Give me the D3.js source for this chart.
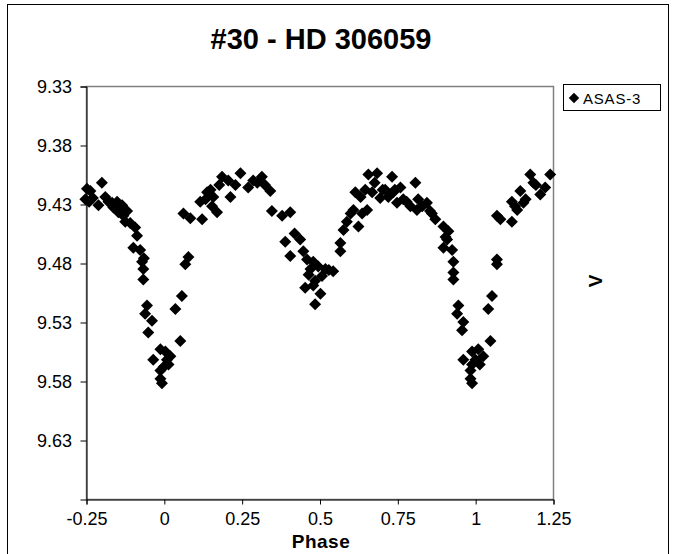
<!DOCTYPE html>
<html>
<head>
<meta charset="utf-8">
<script src="https://cdn.jsdelivr.net/npm/d3@7/dist/d3.min.js"></script>
<style>
  html, body { margin: 0; padding: 0; background: #fff; }
  svg { display: block; font-family: "Liberation Sans", Arial, sans-serif; }
</style>
</head>
<body>
<svg id="chart" width="675" height="554"></svg>
<script>
// ASAS-3 V-band light curve of HD 306059, folded on orbital phase
const phase = [
  -0.247, -0.236, -0.252, -0.199, -0.210, -0.188, -0.166, -0.162, -0.150, -0.134,
  -0.146, -0.130, -0.124, -0.108, -0.092, -0.086, -0.098, -0.076, -0.070, -0.066,
  -0.066, -0.054, -0.060, -0.038, -0.050, -0.034, -0.011, 0.005, 0.021, 0.010,
  -0.011, -0.011, -0.006, 0.053, 0.037, 0.058, 0.069, 0.079, 0.063, 0.085,
  0.117, 0.123, 0.139, 0.155, 0.159, 0.171, 0.187, 0.207, 0.214, 0.246,
  0.271, 0.287, 0.315, 0.342, 0.347, 0.380, 0.406, 0.390, 0.406, 0.486,
  0.438, 0.448, 0.460, 0.480, 0.471, 0.496, 0.519, 0.544, 0.454, 0.480,
  0.503, 0.486, 0.567, 0.567, 0.577, 0.588, 0.609, 0.625, 0.615, 0.637,
  0.653, 0.647, 0.657, 0.685, 0.669, 0.695, 0.711, 0.721, 0.733, 0.737,
  0.749, 0.760, 0.769, 0.792, 0.808, 0.817, 0.813, 0.845, 0.861, 0.872,
  0.898, 0.914, 0.910, 0.898, 0.926, 0.930, 0.930, 0.930, 0.946, 0.942,
  0.962, 0.958, 0.962, 0.990, 1.010, 1.026, 1.001, 0.985, 0.985, 0.990,
  1.049, 1.042, 1.054, 1.070, 1.070, 1.070, 1.081, 1.118, 1.118, 1.135,
  1.145, 1.155, 1.177, 1.187, 1.209, 1.241,
  -0.240, -0.228, -0.178, -0.140, -0.118, -0.064, 0.015, 0.000, 0.134, 0.150,
  0.178, 0.230, 0.300, 0.325, 0.420, 0.465, 0.508, 0.530, 0.600, 0.632,
  0.677, 0.703, 0.742, 0.780, 0.830, 0.855, 0.905, 0.990, 1.015, 1.128,
  1.162, 1.195, 1.225
];
const vmag = [
  9.417, 9.419, 9.426, 9.412, 9.431, 9.424, 9.429, 9.433, 9.428, 9.431,
  9.437, 9.440, 9.445, 9.446, 9.450, 9.457, 9.467, 9.469, 9.479, 9.485,
  9.494, 9.516, 9.523, 9.529, 9.539, 9.562, 9.553, 9.555, 9.559, 9.562,
  9.571, 9.578, 9.582, 9.546, 9.519, 9.508, 9.481, 9.475, 9.438, 9.442,
  9.428, 9.443, 9.420, 9.432, 9.424, 9.437, 9.407, 9.410, 9.424, 9.404,
  9.416, 9.410, 9.407, 9.419, 9.436, 9.440, 9.437, 9.462, 9.474, 9.495,
  9.460, 9.470, 9.477, 9.479, 9.485, 9.483, 9.485, 9.487, 9.501, 9.499,
  9.506, 9.515, 9.463, 9.470, 9.452, 9.445, 9.435, 9.449, 9.420, 9.438,
  9.435, 9.418, 9.405, 9.404, 9.420, 9.425, 9.418, 9.424, 9.407, 9.420,
  9.429, 9.416, 9.426, 9.432, 9.412, 9.426, 9.435, 9.429, 9.438, 9.443,
  9.449, 9.453, 9.460, 9.467, 9.469, 9.479, 9.488, 9.494, 9.516, 9.523,
  9.530, 9.537, 9.562, 9.555, 9.553, 9.559, 9.562, 9.571, 9.578, 9.582,
  9.546, 9.519, 9.508, 9.477, 9.481, 9.440, 9.443, 9.445, 9.428, 9.435,
  9.419, 9.429, 9.405, 9.412, 9.422, 9.405,
  9.428, 9.425, 9.428, 9.434, 9.436, 9.476, 9.566, 9.568, 9.426, 9.418,
  9.414, 9.414, 9.412, 9.414, 9.455, 9.490, 9.491, 9.486, 9.438, 9.424,
  9.412, 9.418, 9.418, 9.428, 9.432, 9.436, 9.458, 9.566, 9.566, 9.432,
  9.426, 9.414, 9.416
];
const xTicks = [-0.25, 0, 0.25, 0.5, 0.75, 1, 1.25];
const yTicks = [9.33, 9.38, 9.43, 9.48, 9.53, 9.58, 9.63];
const titleText = "#30 - HD 306059";
const xLabel = "Phase";
const yLabel = "V";
const seriesName = "ASAS-3";

const svg = d3.select("#chart");
const plot = { left: 86, top: 86, right: 553, bottom: 499 };

// outer chart frame
svg.append("rect")
  .attr("x", 7.5).attr("y", 4.5).attr("width", 661).attr("height", 560)
  .attr("fill", "none").attr("stroke", "#000").attr("stroke-width", 1);

const x = d3.scaleLinear().domain([-0.25, 1.25]).range([plot.left, plot.right]);
// magnitudes: brighter at the top
const y = d3.scaleLinear().domain([9.33, 9.68]).range([plot.top, plot.bottom]);

// plot area border (grey)
svg.append("rect")
  .attr("x", plot.left + 0.5).attr("y", plot.top + 0.5)
  .attr("width", plot.right - plot.left).attr("height", plot.bottom - plot.top)
  .attr("fill", "none").attr("stroke", "#808080").attr("stroke-width", 1.5);

// axes
const xAxis = d3.axisBottom(x).tickValues(xTicks).tickSize(5).tickFormat(d => String(d));
const gx = svg.append("g").attr("transform", `translate(0.5,${plot.bottom + 0.5})`).call(xAxis);
const yAxis = d3.axisLeft(y).tickValues(yTicks).tickSize(6).tickFormat(d3.format(".2f"));
const gy = svg.append("g").attr("transform", `translate(${plot.left + 0.5},0.5)`).call(yAxis);

[gx, gy].forEach(g => {
  g.select(".domain").attr("stroke", "#000").attr("stroke-width", 1);
  g.selectAll(".tick line").attr("stroke", "#000");
  g.selectAll(".tick text").attr("fill", "#000")
    .style("font-family", "'Liberation Sans', Arial, sans-serif").style("font-size", "18px");
});
gx.selectAll(".tick text").attr("dy", "0.95em");
gy.selectAll(".tick text").attr("dx", "-0.3em");

// data points: filled diamonds
const pts = phase.map((p, i) => ({ p, m: vmag[i] }));
svg.append("g").selectAll("path").data(pts).join("path")
  .attr("transform", d => `translate(${x(d.p)},${y(d.m)}) rotate(45)`)
  .attr("d", d3.symbol().type(d3.symbolSquare).size(72))
  .attr("fill", "#000");

// title
svg.append("text").attr("x", 321).attr("y", 49).attr("text-anchor", "middle")
  .attr("font-size", 29).attr("font-weight", "bold").text(titleText);

// axis titles
svg.append("text").attr("x", 321).attr("y", 548).attr("text-anchor", "middle")
  .attr("font-size", 19).attr("font-weight", "bold").attr("letter-spacing", 0.5).text(xLabel);
svg.append("text").attr("transform", "translate(602,281) rotate(-90)").attr("text-anchor", "middle")
  .attr("font-size", 19).attr("font-weight", "bold").text(yLabel);

// legend
const lg = svg.append("g").attr("transform", "translate(563,84)");
lg.append("rect").attr("x", 0.5).attr("y", 0.5).attr("width", 97).attr("height", 26)
  .attr("fill", "#fff").attr("stroke", "#000");
lg.append("path").attr("transform", "translate(11,14) rotate(45)")
  .attr("d", d3.symbol().type(d3.symbolSquare).size(55)).attr("fill", "#000");
lg.append("text").attr("x", 20).attr("y", 19.5).attr("font-size", 15).attr("letter-spacing", 0.8).text(seriesName);
</script>
</body>
</html>
